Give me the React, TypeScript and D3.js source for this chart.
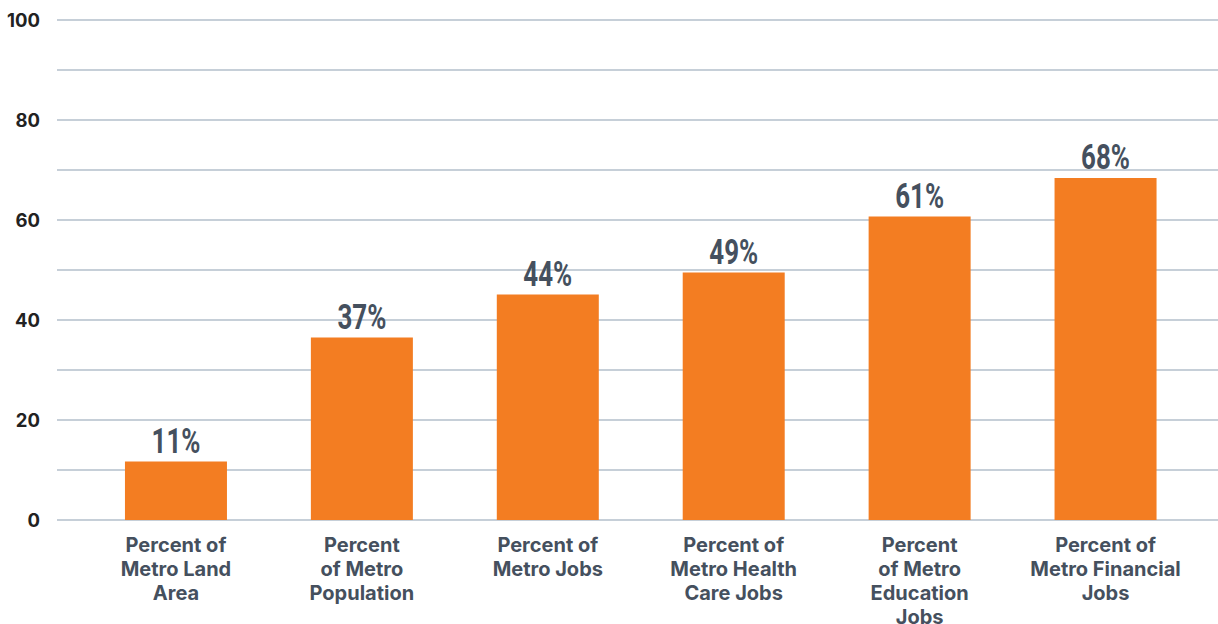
import React from "react";
import * as d3 from "d3";

const categories: string[][] = [
  ["Percent of", "Metro Land", "Area"],
  ["Percent", "of Metro", "Population"],
  ["Percent of", "Metro Jobs"],
  ["Percent of", "Metro Health", "Care Jobs"],
  ["Percent", "of Metro", "Education", "Jobs"],
  ["Percent of", "Metro Financial", "Jobs"],
];
const values: number[] = [11.7, 36.5, 45.1, 49.5, 60.7, 68.4];
const valueLabels: string[] = ["11%", "37%", "44%", "49%", "61%", "68%"];
const yTicks: number[] = [0, 20, 40, 60, 80, 100];
const gridTicks: number[] = [0, 10, 20, 30, 40, 50, 60, 70, 80, 90, 100];

const W = 1218;
const H = 624;
const BAR_COLOR = "#f37d22";
const TEXT_COLOR = "#45505e";
const GRID_COLOR = "#b3bfcb";

export default function App() {
  const x = d3
    .scalePoint<number>()
    .domain(categories.map((_, i) => i))
    .range([83, 1198.5])
    .padding(0.5);
  const y = d3.scaleLinear().domain([0, 100]).range([520, 20]);
  const barW = 102;
  const sans = "Inter, 'Noto Sans', 'DejaVu Sans', sans-serif";

  return (
    <svg
      width={W}
      height={H}
      style={{ position: "absolute", left: 0, top: 0, background: "#fff" }}
    >
      {gridTicks.map((t) => (
        <line
          key={"g" + t}
          x1={57}
          x2={W}
          y1={y(t)}
          y2={y(t)}
          stroke={GRID_COLOR}
          strokeWidth={1.3}
        />
      ))}
      {yTicks.map((t) => (
        <text
          key={"t" + t}
          x={40}
          y={y(t)}
          dy="0.36em"
          textAnchor="end"
          fontFamily={sans}
          fontWeight={700}
          fontSize={18.5}
          fill="#222"
        >
          {t}
        </text>
      ))}
      {values.map((v, i) => (
        <rect
          key={"b" + i}
          x={(x(i) as number) - barW / 2}
          y={y(v)}
          width={barW}
          height={y(0) - y(v)}
          fill={BAR_COLOR}
        />
      ))}
      {values.map((v, i) => (
        <text
          key={"l" + i}
          transform={`translate(${x(i) as number},${y(v) - 9}) scale(0.72,1)`}
          textAnchor="middle"
          fontFamily="Roboto, sans-serif"
          fontWeight={700}
          fontSize={36}
          fill={TEXT_COLOR}
        >
          {valueLabels[i]}
        </text>
      ))}
      {categories.map((lines, i) => (
        <text
          key={"c" + i}
          x={x(i) as number}
          textAnchor="middle"
          fontFamily={sans}
          fontWeight={700}
          fontSize={20}
          fill={TEXT_COLOR}
        >
          {lines.map((ln, j) => (
            <tspan key={j} x={x(i) as number} y={552 + j * 24}>
              {ln}
            </tspan>
          ))}
        </text>
      ))}
    </svg>
  );
}
